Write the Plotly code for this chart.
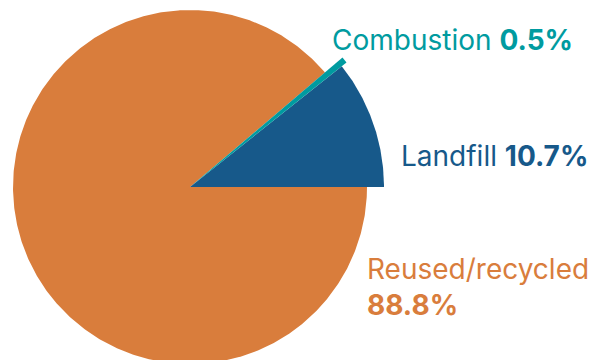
import numpy as np
import plotly.graph_objects as go

# Waste destination shares (percent)
categories = ["Landfill", "Combustion", "Reused/recycled"]
shares = [10.7, 0.5, 88.8]

# Styling per slice: colour and outer radius (axis units = pixels)
colors = {"Landfill": "#17598A", "Combustion": "#009BA0", "Reused/recycled": "#D97D3C"}
radius = {"Landfill": 194, "Combustion": 200, "Reused/recycled": 177}

W, H = 605, 360
CX, CY = 190, 187          # pie centre in pixels from the top-left corner

# angular extent of each slice follows its share, from 3 o'clock, counter-clockwise
widths = np.array(shares) / 100 * 360
starts = np.concatenate([[0], np.cumsum(widths)[:-1]])


def wedge(r, a0, a1):
    n = max(3, int(abs(a1 - a0) * 2) + 2)
    a = np.radians(np.linspace(a0, a1, n))
    xs = np.concatenate([[0], r * np.cos(a), [0]])
    ys = np.concatenate([[0], r * np.sin(a), [0]])
    return xs, ys


fig = go.Figure()
for name in ["Reused/recycled", "Landfill", "Combustion"]:
    i = categories.index(name)
    xs, ys = wedge(radius[name], starts[i], starts[i] + widths[i])
    fig.add_trace(go.Scatter(
        x=xs, y=ys, mode="lines", fill="toself",
        fillcolor=colors[name], line=dict(width=0, color=colors[name]),
        name=name, hoverinfo="skip",
    ))

FONT = "Inter"


def label(name, value, x, y, yanchor="middle", br=False):
    sep = "<br>" if br else " "
    fig.add_annotation(
        text=f"{name}{sep}<b>{value}%</b>",
        x=x / W, y=1 - y / H, xref="paper", yref="paper",
        xanchor="left", yanchor=yanchor, align="left", showarrow=False,
        font=dict(family=FONT, size=28, color=colors[name]),
    )


label("Combustion", shares[1], 330, 40)
label("Landfill", shares[0], 399, 156)
label("Reused/recycled", shares[2], 365, 250, yanchor="top", br=True)

axis = dict(visible=False, fixedrange=True, showgrid=False, zeroline=False)
fig.update_layout(
    width=W, height=H,
    margin=dict(l=0, r=0, t=0, b=0),
    paper_bgcolor="white", plot_bgcolor="white",
    showlegend=False,
    xaxis=dict(axis, range=[-CX, W - CX]),
    yaxis=dict(axis, range=[-(H - CY), CY]),
)

fig.write_html("out.html")
